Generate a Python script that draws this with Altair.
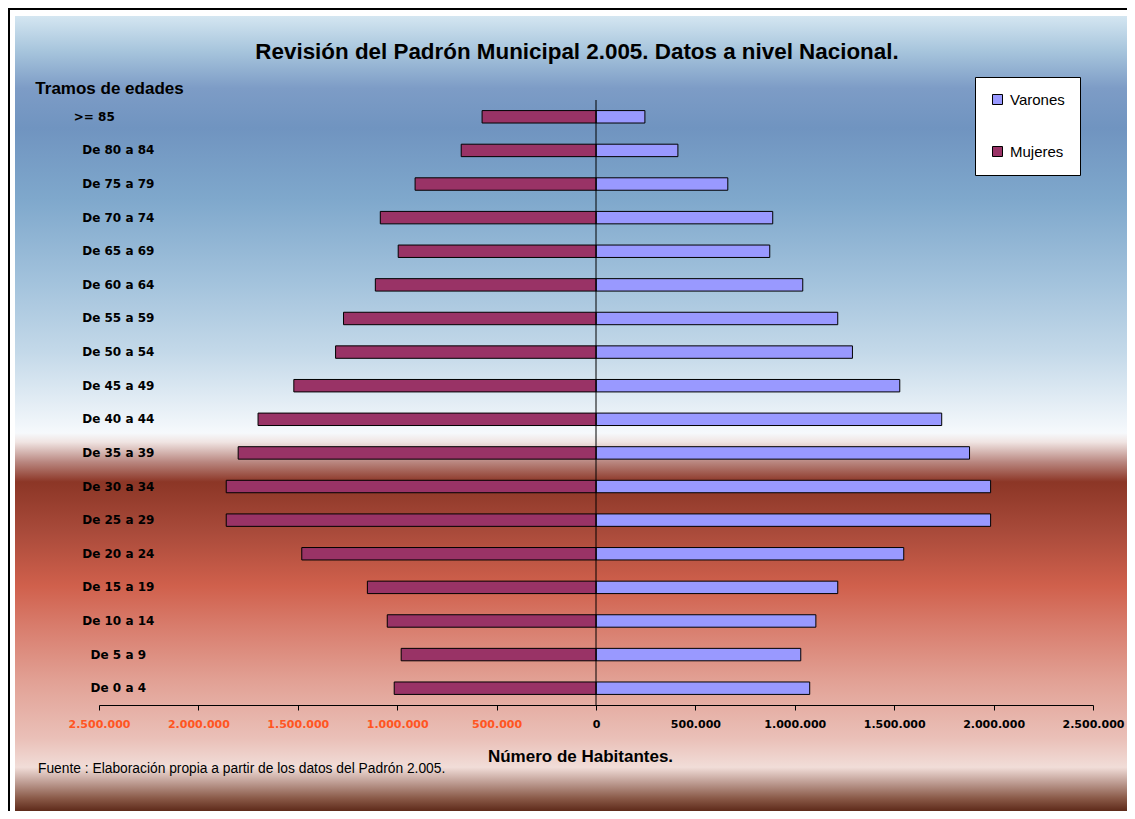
import altair as alt
import pandas as pd

# ---- data ----
edades = [">= 85", "De 80 a 84", "De 75 a 79", "De 70 a 74", "De 65 a 69",
          "De 60 a 64", "De 55 a 59", "De 50 a 54", "De 45 a 49", "De 40 a 44",
          "De 35 a 39", "De 30 a 34", "De 25 a 29", "De 20 a 24", "De 15 a 19",
          "De 10 a 14", "De 5 a 9", "De 0 a 4"]
varones = [246000, 412000, 663000, 889000, 874000, 1040000, 1216000, 1290000,
           1528000, 1739000, 1879000, 1985000, 1985000, 1548000, 1216000,
           1106000, 1030000, 1075000]
mujeres = [573000, 678000, 910000, 1085000, 995000, 1110000, 1270000, 1310000,
           1520000, 1700000, 1800000, 1860000, 1860000, 1480000, 1150000,
           1050000, 980000, 1015000]
sexos = ["Varones", "Mujeres"]
tick_values = [-2500000, -2000000, -1500000, -1000000, -500000, 0,
               500000, 1000000, 1500000, 2000000, 2500000]
titulo = "Revisión del Padrón Municipal 2.005. Datos a nivel Nacional."
fuente = "Fuente : Elaboración propia a partir de los datos del Padrón 2.005."

rows = []
for e, v, m in zip(edades, varones, mujeres):
    rows.append({"edad": e, "sexo": "Varones", "valor": v})
    rows.append({"edad": e, "sexo": "Mujeres", "valor": -m})
df = pd.DataFrame(rows)

W, H = 994, 605

# ---- background gradient ----
stops = [
    (0.0, "#d4e6f1"), (0.045, "#a6c4dc"), (0.091, "#7d9cc6"), (0.141, "#7094c0"),
    (0.231, "#7fa8cc"), (0.333, "#a2c2dc"), (0.424, "#c4d9e9"), (0.5245, "#f6f9fc"),
    (0.536, "#f0e4e2"), (0.561, "#b98780"), (0.586, "#8c3626"), (0.647, "#a84a3a"),
    (0.717, "#d0604c"), (0.767, "#d87c6c"), (0.839, "#e2a296"), (0.909, "#eac0b8"),
    (0.945, "#f1ddd8"), (0.965, "#bc9a90"), (0.984, "#8a5a48"), (1.0, "#5e2a1a"),
]
grad = alt.LinearGradient(
    gradient="linear",
    stops=[alt.GradientStop(offset=o, color=c) for o, c in stops],
    x1=0, x2=0, y1=0, y2=1,
)
one = pd.DataFrame({"a": [0]})
bg = alt.Chart(one).mark_rect(fill=grad).encode(
    x=alt.value(-84), x2=alt.value(1045), y=alt.value(-84), y2=alt.value(711)
)
frame = alt.Chart(one).mark_rect(fill="transparent", stroke="black", strokeWidth=2).encode(
    x=alt.value(-90), x2=alt.value(1100), y=alt.value(-91), y2=alt.value(800)
)

x_axis = alt.Axis(
    values=tick_values, zindex=2,
    labelExpr="replace(replace(format(abs(datum.value), ','), ',', '.'), ',', '.')",
    labelFont="DejaVu Sans", labelFontWeight="bold", labelFontSize=11,
    labelColor={"condition": {"test": "datum.value < 0", "value": "#ff5522"}, "value": "black"},
    labelPadding=8, labelFlush=False, labelOverlap=False,
    domainColor="black", tickColor="black", tickSize=5, grid=False,
    title="Número de Habitantes.", titleFont="Liberation Sans", titleFontSize=17,
    titleFontWeight="bold", titleColor="black", titleX=481, titleY=51,
    titleAlign="center", titleBaseline="middle",
)
y_axis = alt.Axis(
    labels=False, ticks=False, domain=False, grid=False, zindex=2,
    title="Tramos de edades", titleFont="Liberation Sans", titleFontSize=17,
    titleFontWeight="bold", titleColor="black", titleAngle=0,
    titleX=10, titleY=-12, titleAlign="center", titleBaseline="middle",
)
legend = alt.Legend(
    orient="none", legendX=876, legendY=-23, title=None,
    fillColor="white", strokeColor="black", padding=15, rowPadding=36,
    symbolType="square", symbolSize=100, symbolStrokeColor="black",
    symbolStrokeWidth=1, labelFont="Liberation Sans", labelFontSize=15,
    labelColor="black", labelOffset=5,
)

xscale = alt.Scale(domain=[-2500000, 2500000], nice=False)
yscale = alt.Scale(paddingInner=0.63, paddingOuter=0.315)

bars = alt.Chart(df).mark_bar(stroke="black", strokeWidth=1).encode(
    x=alt.X("valor:Q", stack=None, scale=xscale, axis=x_axis),
    y=alt.Y("edad:N", sort=edades, scale=yscale, axis=y_axis),
    color=alt.Color("sexo:N", scale=alt.Scale(domain=sexos, range=["#9999ff", "#993366"]),
                    legend=legend),
)

zero = alt.Chart(pd.DataFrame({"valor": [0]})).mark_rule(color="black", strokeWidth=1).encode(
    x=alt.X("valor:Q", scale=xscale, axis=x_axis)
)

ylabels = alt.Chart(pd.DataFrame({"edad": edades})).mark_text(
    align="center", baseline="middle", font="DejaVu Sans", fontWeight="bold",
    fontSize=12, color="black",
    dx=alt.ExprRef(expr="datum.edad == '>= 85' ? -24 : 0"),
).encode(
    y=alt.Y("edad:N", sort=edades, scale=yscale, axis=y_axis),
    text="edad:N",
    x=alt.value(19.3),
)

title_t = alt.Chart(pd.DataFrame({"t": [titulo]})).mark_text(
    align="center", baseline="middle", font="Liberation Sans", fontWeight="bold",
    fontSize=22.4, color="black",
).encode(text="t:N", x=alt.value(478), y=alt.value(-48))

fuente_t = alt.Chart(pd.DataFrame({"t": [fuente]})).mark_text(
    align="left", baseline="middle", font="Liberation Sans",
    fontSize=13.8, color="black",
).encode(text="t:N", x=alt.value(-61), y=alt.value(669))

chart = alt.layer(bg, bars, zero, ylabels, title_t, fuente_t, frame).properties(
    width=W, height=H,
    padding={"left": 91, "top": 92, "right": 34, "bottom": 106},
    autosize=alt.AutoSizeParams(type="none"),
).configure_view(strokeWidth=0).configure(background="white")

chart.save("out.html", embed_options={"renderer": "svg", "actions": False})
